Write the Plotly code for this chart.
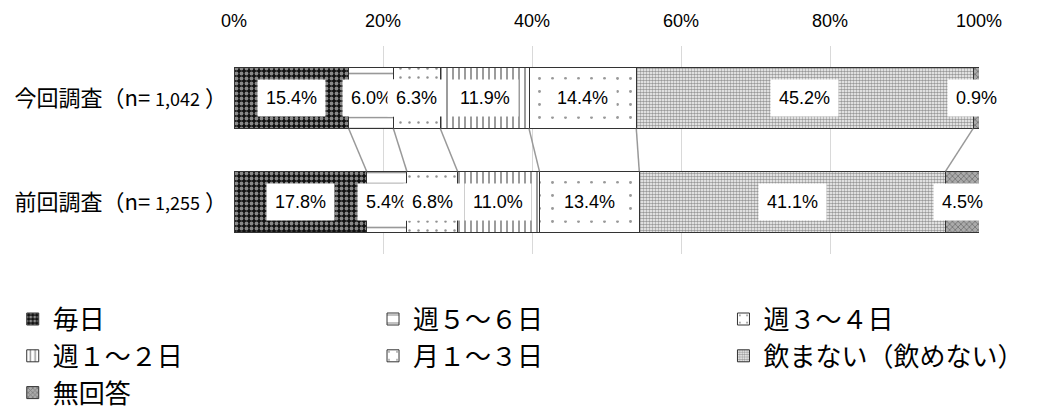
import plotly.graph_objects as go

# survey rows (top first) and sample sizes
surveys = ["今回調査", "前回調査"]
sample_n = ["1,042", "1,255"]

categories = ["毎日", "週５～６日", "週３～４日", "週１～２日", "月１～３日", "飲まない（飲めない）", "無回答"]
current = [15.4, 6.0, 6.3, 11.9, 14.4, 45.2, 0.9]
previous = [17.8, 5.4, 6.8, 11.0, 13.4, 41.1, 4.5]

x_ticks = [0, 20, 40, 60, 80, 100]
x_tick_text = ["0%", "20%", "40%", "60%", "80%", "100%"]

CJK = "Noto Sans CJK JP"
NUM = "Liberation Sans Narrow, Arial Narrow, Liberation Sans"

patterns = [
    dict(shape=".", bgcolor="#111111", fgcolor="white", size=5, solidity=0.45),
    dict(shape="-", bgcolor="white", fgcolor="#333333", size=11, solidity=0.15),
    dict(shape=".", bgcolor="white", fgcolor="#222222", size=9, solidity=0.06),
    dict(shape="|", bgcolor="white", fgcolor="#222222", size=6, solidity=0.3),
    dict(shape=".", bgcolor="white", fgcolor="#333333", size=13, solidity=0.04),
    dict(shape=".", bgcolor="white", fgcolor="#333333", size=3, solidity=0.6),
    dict(shape="x", bgcolor="#aaaaaa", fgcolor="#444444", size=4, solidity=0.4),
]
legend_of = ["legend", "legend2", "legend3", "legend", "legend2", "legend3", "legend"]

labels = [
    f'{s}（n= <span style="font-size:18px">{n}</span> ）' for s, n in zip(surveys, sample_n)
]
rows = {labels[0]: current, labels[1]: previous}
y_order = [labels[1], labels[0]]  # bottom to top

fig = go.Figure()
for i, cat in enumerate(categories):
    fig.add_trace(go.Bar(
        y=[labels[0], labels[1]],
        x=[current[i], previous[i]],
        name=cat,
        orientation="h",
        width=0.59,
        marker=dict(pattern=patterns[i], line=dict(color="#333333", width=1)),
        legend=legend_of[i],
        hoverinfo="skip",
    ))

# value labels in white boxes
for lab, vals in rows.items():
    left = 0
    for v in vals:
        fig.add_annotation(
            x=left + v / 2, y=lab, text=f"{v:.1f}%", showarrow=False,
            font=dict(family=NUM, size=18, color="black"),
            bgcolor="white", borderpad=8,
        )
        left += v

# connector lines between the two bars
cum_top, cum_bot = 0, 0
for a, b in zip(current[:-1], previous[:-1]):
    cum_top += a
    cum_bot += b
    fig.add_shape(type="line", xref="x", yref="y",
                  x0=cum_top, y0=1 - 0.295, x1=cum_bot, y1=0 + 0.295,
                  line=dict(color="#999999", width=1.5))

leg_common = dict(font=dict(family=CJK, size=26, color="black"), bgcolor="rgba(0,0,0,0)",
                  orientation="v", yanchor="top", xanchor="left", y=-0.2,
                  itemwidth=30, tracegroupgap=0, traceorder="normal")

# page body has an 8px margin, so the figure is 8px smaller than the window
fig.update_layout(
    barmode="stack",
    width=1043, height=404,
    margin=dict(l=226, r=72, t=38, b=158, autoexpand=False),
    plot_bgcolor="white", paper_bgcolor="white",
    font=dict(family=CJK, color="black"),
    legend=dict(x=-0.297, **leg_common),
    legend2=dict(x=0.1866, **leg_common),
    legend3=dict(x=0.657, **leg_common),
    xaxis=dict(
        range=[0, 100], side="top", tickvals=x_ticks, ticktext=x_tick_text,
        tickfont=dict(family=NUM, size=18, color="black"),
        showgrid=True, gridcolor="#d9d9d9", gridwidth=1, zeroline=False,
        ticks="", ticklabelstandoff=14, fixedrange=True, automargin=False,
    ),
    yaxis=dict(
        categoryorder="array", categoryarray=y_order, range=[-0.5, 1.5],
        tickfont=dict(family=CJK, size=22, color="black"),
        showgrid=False, zeroline=False, ticks="", ticklabelstandoff=6,
        fixedrange=True, automargin=False,
    ),
    showlegend=True,
)

fig.write_html("out.html")
